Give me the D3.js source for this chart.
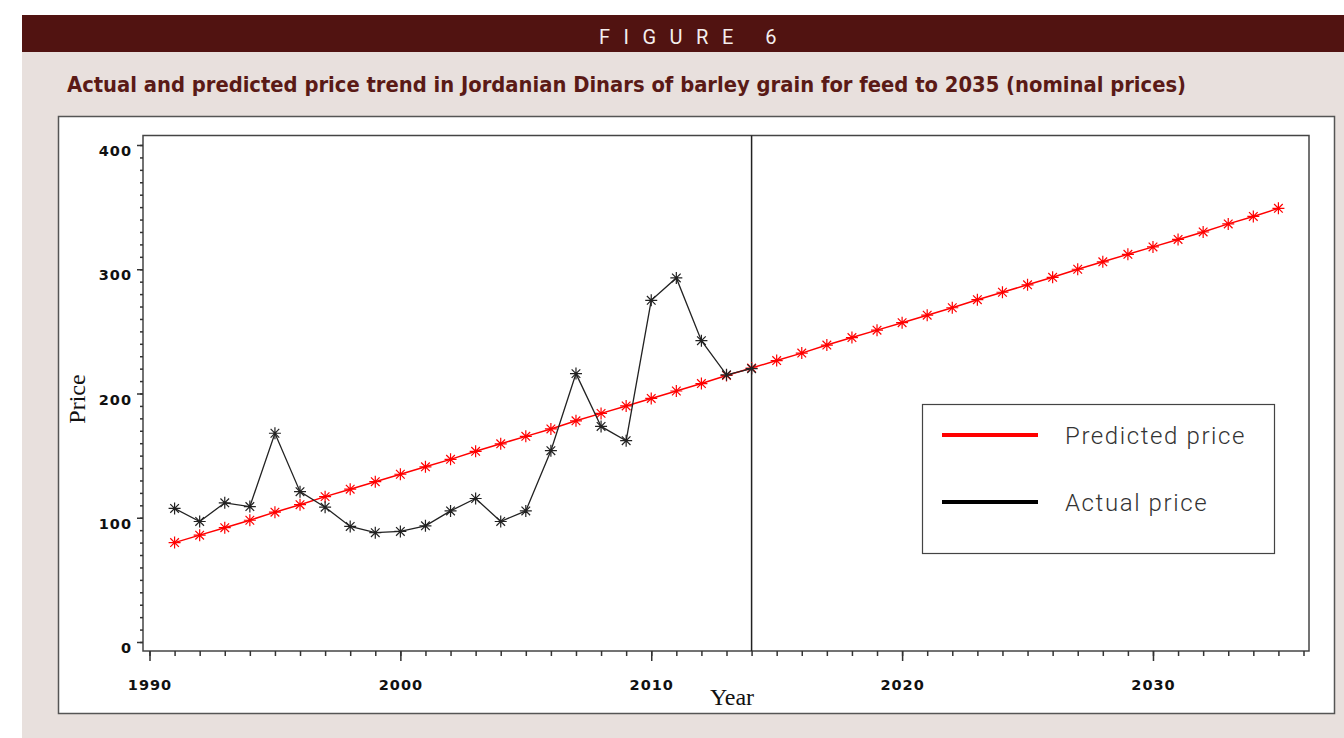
<!DOCTYPE html>
<html>
<head>
<meta charset="utf-8">
<script src="https://cdn.jsdelivr.net/npm/d3@7"></script>
<style>
  body { margin: 0; background: #fff; }
  svg { display: block; }
</style>
</head>
<body>
<svg id="chart" width="1344" height="738"></svg>
<script>
// data
var predYears = [1991, 1992, 1993, 1994, 1995, 1996, 1997, 1998, 1999, 2000,
                 2001, 2002, 2003, 2004, 2005, 2006, 2007, 2008, 2009, 2010,
                 2011, 2012, 2013, 2014, 2015, 2016, 2017, 2018, 2019, 2020,
                 2021, 2022, 2023, 2024, 2025, 2026, 2027, 2028, 2029, 2030,
                 2031, 2032, 2033, 2034, 2035];
var predicted = [80, 86, 92, 98, 104.5, 110.5, 117, 123, 129, 135,
                 141, 147, 153.5, 159.5, 165.5, 171.5, 178, 184, 190, 196,
                 202, 208, 214.5, 220.5, 226.5, 232.5, 239, 245, 251, 257,
                 263, 269, 275.5, 281.5, 287.5, 293.5, 300, 306, 312, 318,
                 324, 330, 336.5, 342.5, 349];
var actualYears = [1991, 1992, 1993, 1994, 1995, 1996, 1997, 1998, 1999, 2000,
                   2001, 2002, 2003, 2004, 2005, 2006, 2007, 2008, 2009, 2010,
                   2011, 2012, 2013, 2014];
var actual = [107.5, 97, 112, 109, 168, 121, 108.5, 93, 88, 89,
              93.5, 105.5, 115.5, 97, 105.5, 154, 216, 173.5, 162, 275,
              293, 242.5, 215, 220];
var yTicks = [0, 100, 200, 300, 400];
var xTicks = [1990, 2000, 2010, 2020, 2030];
var cutYear = 2014;
var legendLabels = ['Predicted price', 'Actual price'];
var legendColors = ['#ff0000', '#000000'];

var svg = d3.select('#chart');

// page background and header band
svg.append('rect').attr('x', 22).attr('y', 15).attr('width', 1322).attr('height', 723).attr('fill', '#e8e0dd');
svg.append('rect').attr('x', 22).attr('y', 15).attr('width', 1322).attr('height', 37).attr('fill', '#511311');
svg.append('text')
    .attr('x', 599).attr('y', 44)
    .attr('font-family', 'Roboto, sans-serif')
    .attr('font-size', 20)
    .attr('letter-spacing', '13.5px')
    .attr('fill', '#f4eeee')
    .text('FIGURE 6');
svg.append('text')
    .attr('x', 67).attr('y', 92)
    .attr('font-family', '"DejaVu Sans Condensed", "DejaVu Sans", sans-serif')
    .attr('font-weight', 'bold')
    .attr('font-size', 21)
    .attr('textLength', 1119)
    .attr('lengthAdjust', 'spacingAndGlyphs')
    .attr('fill', '#5a1a16')
    .text('Actual and predicted price trend in Jordanian Dinars of barley grain for feed to 2035 (nominal prices)');

// white chart panel
svg.append('rect').attr('x', 58.5).attr('y', 116.5).attr('width', 1276).attr('height', 597)
    .attr('fill', '#fff').attr('stroke', '#555').attr('stroke-width', 1.5);

var x = d3.scaleLinear().domain([1990, 2036]).range([149.5, 1303.5]);
var y = d3.scaleLinear().domain([0, 400]).range([642, 145]);

// plot frame
svg.append('rect').attr('x', 143).attr('y', 135.5).attr('width', 1166).attr('height', 515.5)
    .attr('fill', 'none').attr('stroke', '#444').attr('stroke-width', 1.5);

var tickFont = '"DejaVu Sans", Verdana, sans-serif';

// x axis: minor then major ticks
var xMinor = svg.append('g').attr('transform', 'translate(0,651)')
    .call(d3.axisBottom(x).tickValues(d3.range(1990, 2037)).tickSize(5).tickFormat(''));
var xMajor = svg.append('g').attr('transform', 'translate(0,651)')
    .call(d3.axisBottom(x).tickValues(xTicks).tickSize(10).tickFormat(d3.format('d')));
[xMinor, xMajor].forEach(function(g) {
    g.select('.domain').remove();
    g.selectAll('line').attr('stroke', '#333').attr('stroke-width', 1.5);
});
xMajor.selectAll('text')
    .attr('y', 39).attr('dy', 0)
    .attr('font-family', tickFont)
    .attr('font-weight', 'bold')
    .attr('font-size', 14.5)
    .attr('letter-spacing', '1px')
    .attr('fill', '#111');

// y axis
var yMinor = svg.append('g').attr('transform', 'translate(143,0)')
    .call(d3.axisLeft(y).tickValues(d3.range(0, 401, 10)).tickSize(3).tickFormat(''));
var yMajor = svg.append('g').attr('transform', 'translate(143,0)')
    .call(d3.axisLeft(y).tickValues(yTicks).tickSize(6).tickFormat(d3.format('d')));
[yMinor, yMajor].forEach(function(g) {
    g.select('.domain').remove();
    g.selectAll('line').attr('stroke', '#333').attr('stroke-width', 1.5);
});
yMajor.selectAll('text')
    .attr('x', -11).attr('dy', 10.5)
    .attr('font-family', tickFont)
    .attr('font-weight', 'bold')
    .attr('font-size', 14.5)
    .attr('letter-spacing', '1px')
    .attr('fill', '#111');

// axis titles
svg.append('text')
    .attr('x', 732).attr('y', 705)
    .attr('text-anchor', 'middle')
    .attr('font-family', '"Liberation Serif", "Times New Roman", serif')
    .attr('font-size', 24)
    .attr('fill', '#111')
    .text('Year');
svg.append('text')
    .attr('transform', 'translate(85,399) rotate(-90)')
    .attr('text-anchor', 'middle')
    .attr('font-family', '"Liberation Serif", "Times New Roman", serif')
    .attr('font-size', 24)
    .attr('fill', '#111')
    .text('Price');

// cut-off between actual and forecast
svg.append('line')
    .attr('x1', x(cutYear)).attr('x2', x(cutYear))
    .attr('y1', 135.5).attr('y2', 651)
    .attr('stroke', '#222').attr('stroke-width', 1.5);

function star(r) {
    var a = r * 0.72;
    return 'M0,' + (-r) + 'V' + r + 'M' + (-r) + ',0H' + r +
        'M' + (-a) + ',' + (-a) + 'L' + a + ',' + a +
        'M' + (-a) + ',' + a + 'L' + a + ',' + (-a);
}

function drawSeries(xs, ys, color, width) {
    var pts = xs.map(function(d, i) { return [x(d), y(ys[i])]; });
    svg.append('path')
        .attr('d', d3.line()(pts))
        .attr('fill', 'none')
        .attr('stroke', color)
        .attr('stroke-width', width);
    svg.append('g').selectAll('path')
        .data(pts)
        .enter().append('path')
        .attr('transform', function(p) { return 'translate(' + p[0] + ',' + p[1] + ')'; })
        .attr('d', star(6))
        .attr('fill', 'none')
        .attr('stroke', color)
        .attr('stroke-width', 1.2);
}

drawSeries(predYears, predicted, '#ff0000', 1.5);
drawSeries(actualYears, actual, '#222', 1.3);

// legend
var legend = svg.append('g');
legend.append('rect')
    .attr('x', 922.5).attr('y', 404.5).attr('width', 352).attr('height', 149)
    .attr('fill', '#fff').attr('stroke', '#444').attr('stroke-width', 1.2);
legendLabels.forEach(function(label, i) {
    var ly = 435 + i * 67;
    legend.append('line')
        .attr('x1', 942).attr('x2', 1038)
        .attr('y1', ly).attr('y2', ly)
        .attr('stroke', legendColors[i]).attr('stroke-width', 4);
    legend.append('text')
        .attr('x', 1065).attr('y', ly + 9)
        .attr('font-family', 'Roboto, sans-serif')
        .attr('font-weight', 300)
        .attr('font-size', 24)
        .attr('letter-spacing', '1.6px')
        .attr('fill', '#333')
        .text(label);
});
</script>
</body>
</html>
